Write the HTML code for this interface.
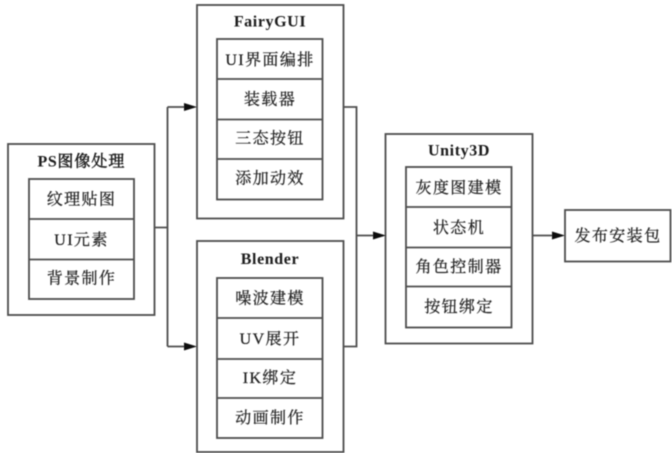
<!DOCTYPE html>
<html>
<head>
<meta charset="utf-8">
<style>
html,body{margin:0;padding:0;background:#fff;width:672px;height:453px;overflow:hidden}
svg{display:block}
.b{fill:none;stroke:#4d4d4d;stroke-width:1.8}
.t{font-family:"Liberation Serif","Noto Serif CJK SC",serif;font-size:16px;fill:#222;stroke:#222;stroke-width:.25;text-anchor:middle;letter-spacing:1.4px}
.h{font-weight:bold;letter-spacing:.6px;fill:#1a1a1a;stroke:none}
.c{font-weight:normal;stroke:#1a1a1a;stroke-width:.45;letter-spacing:1px}
</style>
</head>
<body>
<svg width="672" height="453" viewBox="0 0 672 453" xmlns="http://www.w3.org/2000/svg">
<defs><filter id="s" x="-5%" y="-5%" width="110%" height="110%"><feGaussianBlur stdDeviation="0.45"/></filter></defs>
<rect width="672" height="453" fill="#fff"/>
<g filter="url(#s)">
  <!-- PS -->
  <rect class="b" x="8" y="144" width="146.500" height="171"/>
  <rect class="b" x="29" y="179" width="105" height="120"/>
  <path class="b" d="M29 219H134M29 259.500H134"/>
  <text class="t h" x="81.500" y="166.500">PS<tspan class="c">图像处理</tspan></text>
  <text class="t" x="81.500" y="204.500">纹理贴图</text>
  <text class="t" x="81.500" y="245">UI元素</text>
  <text class="t" x="81.500" y="283.500">背景制作</text>

  <!-- FairyGUI -->
  <rect class="b" x="197" y="5" width="146.500" height="213.500"/>
  <rect class="b" x="217" y="39" width="105.500" height="160.500"/>
  <path class="b" d="M217 79H322.500M217 119.500H322.500M217 159H322.500"/>
  <text class="t h" x="270" y="26.500">FairyGUI</text>
  <text class="t" x="270" y="65">UI界面编排</text>
  <text class="t" x="270" y="104.500">装载器</text>
  <text class="t" x="270" y="143.500">三态按钮</text>
  <text class="t" x="270" y="183.500">添加动效</text>

  <!-- Blender -->
  <rect class="b" x="197" y="241" width="146.500" height="211"/>
  <rect class="b" x="217" y="278" width="105.500" height="160"/>
  <path class="b" d="M217 318H322.500M217 359H322.500M217 398H322.500"/>
  <text class="t h" x="270" y="264">Blender</text>
  <text class="t" x="270" y="303.500">噪波建模</text>
  <text class="t" x="270" y="344">UV展开</text>
  <text class="t" x="270" y="383">IK绑定</text>
  <text class="t" x="270" y="423">动画制作</text>

  <!-- Unity3D -->
  <rect class="b" x="385.500" y="134" width="147" height="209.500"/>
  <rect class="b" x="406" y="167" width="105.500" height="160.500"/>
  <path class="b" d="M406 207H511.500M406 247.500H511.500M406 286.500H511.500"/>
  <text class="t h" x="459" y="155.500">Unity3D</text>
  <text class="t" x="459" y="193">灰度图建模</text>
  <text class="t" x="459" y="233">状态机</text>
  <text class="t" x="459" y="272">角色控制器</text>
  <text class="t" x="459" y="312">按钮绑定</text>

  <!-- Publish -->
  <rect class="b" x="565" y="210" width="105.500" height="51.500"/>
  <text class="t" x="618" y="241">发布安装包</text>

  <!-- Connectors -->
  <path class="b" d="M154.500 227.500H167.500M167.500 107H186M167.500 107V346.500M167.500 346.500H186"/>
  <path class="b" d="M343.500 107H356.500V346.500H343.500M356.500 235.500H375"/>
  <path class="b" d="M532.500 235.500H555"/>
  <path fill="#111" d="M184 103L197 107L184 111Z"/>
  <path fill="#111" d="M184 342.500L197 346.500L184 350.500Z"/>
  <path fill="#111" d="M373 231.500L386 235.500L373 239.500Z"/>
  <path fill="#111" d="M552 231.500L565 235.500L552 239.500Z"/>
</g>
</svg>
</body>
</html>
